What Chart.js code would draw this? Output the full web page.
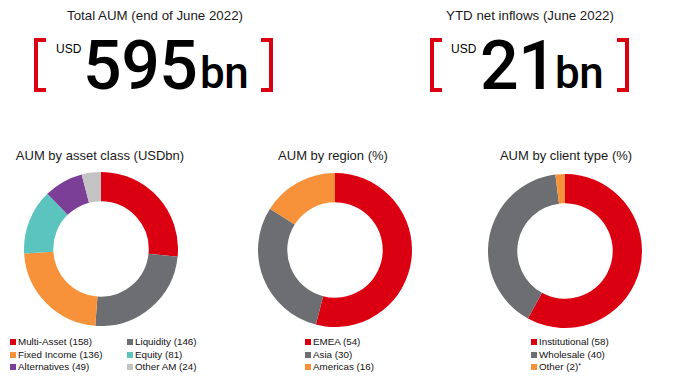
<!DOCTYPE html>
<html>
<head>
<meta charset="utf-8">
<script src="https://cdn.jsdelivr.net/npm/chart.js@4/dist/chart.umd.min.js"></script>
<style>
  html, body { margin:0; padding:0; background:#fff; }
  body { width:678px; height:389px; position:relative; overflow:hidden; font-family:"Liberation Sans", Arial, sans-serif; color:#1a1a1a; }
  .abs { position:absolute; }
  .hdr { font-size:13.3px; white-space:nowrap; transform:translateX(-50%); }
  .ctitle { font-size:13px; white-space:nowrap; transform:translateX(-50%); }
  .brk { position:absolute; width:12px; border:4px solid #db0011; box-sizing:border-box; }
  .brk.l { border-right:none; }
  .brk.r { border-left:none; }
  .usd { font-size:12px; color:#000; }
  .big { font-family:Roboto, "Liberation Sans", sans-serif; font-weight:500; font-size:68px; line-height:1; letter-spacing:-0.5px; color:#000; }
  .bn { font-family:Roboto, "Liberation Sans", sans-serif; font-weight:500; font-size:44px; line-height:1; letter-spacing:-0.5px; color:#000; }
  .leg { font-size:9.8px; white-space:nowrap; line-height:1; color:#111; }
  .sw { position:absolute; width:6px; height:6px; }
  canvas { position:absolute; }
</style>
</head>
<body>
<div class="abs hdr" style="left:155px; top:8px;">Total AUM (end of June 2022)</div>
<div class="abs hdr" style="left:530px; top:8px;">YTD net inflows (June 2022)</div>

<div class="brk l" style="left:34px; top:38px; height:54px;"></div>
<div class="abs usd" style="left:56px; top:42px;">USD</div>
<div class="abs big" style="left:83px; top:32px;">595</div>
<div class="abs bn" style="left:200px; top:51px;">bn</div>
<div class="brk r" style="left:261px; top:38px; height:54px;"></div>

<div class="brk l" style="left:430px; top:38px; height:54px;"></div>
<div class="abs usd" style="left:451px; top:42px;">USD</div>
<div class="abs big" style="left:480px; top:32px;">21</div>
<div class="abs bn" style="left:555px; top:51px;">bn</div>
<div class="brk r" style="left:617px; top:38px; height:54px;"></div>

<div class="abs ctitle" style="left:100px; top:148px;">AUM by asset class (USDbn)</div>
<div class="abs ctitle" style="left:333px; top:148px;">AUM by region (%)</div>
<div class="abs ctitle" style="left:566px; top:148px;">AUM by client type (%)</div>

<canvas id="c1" width="154" height="154" style="left:24px; top:172px; width:154px; height:154px;"></canvas>
<canvas id="c2" width="154" height="154" style="left:258px; top:173px; width:154px; height:154px;"></canvas>
<canvas id="c3" width="154" height="154" style="left:488px; top:174px; width:154px; height:154px;"></canvas>

<div id="legends"></div>

<script>
// ---- data ----
const assetLabels = ['Multi-Asset', 'Liquidity', 'Fixed Income', 'Equity', 'Alternatives', 'Other AM'];
const assetValues = [158, 146, 136, 81, 49, 24];
const regionLabels = ['EMEA', 'Asia', 'Americas'];
const regionValues = [54, 30, 16];
const clientLabels = ['Institutional', 'Wholesale', 'Other'];
const clientValues = [58, 40, 2];
const clientNotes = ['', '', '*'];

const RED = '#db0011', GREY = '#6d6e71', ORANGE = '#f7923a', TEAL = '#5cc4be', PURPLE = '#7b3f98', LIGHT = '#c3c3c3';
const assetColors = [RED, GREY, ORANGE, TEAL, PURPLE, LIGHT];
const regionColors = [RED, GREY, ORANGE];
const clientColors = [RED, GREY, ORANGE];

function donut(id, labels, values, colors) {
  new Chart(document.getElementById(id), {
    type: 'doughnut',
    data: { labels: labels, datasets: [{ data: values, backgroundColor: colors, borderWidth: 0 }] },
    options: {
      responsive: false, animation: false, cutout: '62%',
      layout: { padding: 0 },
      plugins: { legend: { display: false }, tooltip: { enabled: false } }
    }
  });
}
donut('c1', assetLabels, assetValues, assetColors);
donut('c2', regionLabels, regionValues, regionColors);
donut('c3', clientLabels, clientValues, clientColors);

// ---- HTML legends ----
const legRoot = document.getElementById('legends');
function legendItem(x, y, color, text, note) {
  const sw = document.createElement('div');
  sw.className = 'sw';
  sw.style.left = x + 'px'; sw.style.top = (y - 3) + 'px'; sw.style.background = color;
  legRoot.appendChild(sw);
  const t = document.createElement('div');
  t.className = 'abs leg';
  t.style.left = (x + 8) + 'px'; t.style.top = (y - 5) + 'px';
  t.textContent = text;
  if (note) { const s = document.createElement('sup'); s.textContent = note; s.style.fontSize = '7px'; s.style.verticalAlign = '2px'; t.appendChild(s); }
  legRoot.appendChild(t);
}
const rowY = [342, 354.5, 367];
assetLabels.forEach((l, i) => {
  const col = i % 2, row = Math.floor(i / 2);
  legendItem(col ? 127 : 10, rowY[row], assetColors[i], l + ' (' + assetValues[i] + ')');
});
regionLabels.forEach((l, i) => legendItem(305, rowY[i], regionColors[i], l + ' (' + regionValues[i] + ')'));
clientLabels.forEach((l, i) => legendItem(531, rowY[i], clientColors[i], l + ' (' + clientValues[i] + ')', clientNotes[i]));
</script>
</body>
</html>
